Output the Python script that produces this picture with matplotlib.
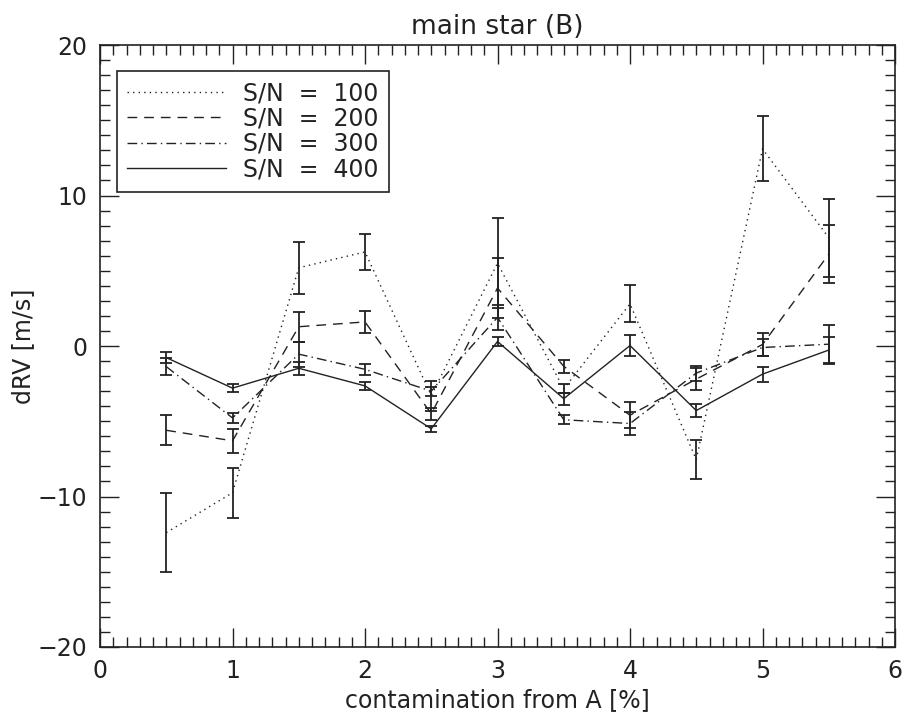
import matplotlib
matplotlib.use("Agg")
import matplotlib.pyplot as plt
from matplotlib.ticker import MultipleLocator

x = [0.5, 1.0, 1.5, 2.0, 2.5, 3.0, 3.5, 4.0, 4.5, 5.0, 5.5]

sn100 = [-12.4, -9.75, 5.2, 6.25, -3.3, 5.5, -2.85, 2.8, -7.55, 13.1, 7.2]
err100 = [2.6, 1.65, 1.73, 1.17, 1.0, 3.0, 0.3, 1.22, 1.3, 2.15, 2.6]
sn200 = [-5.6, -6.3, 1.28, 1.6, -4.5, 3.85, -1.35, -4.6, -2.2, 0.1, 6.1]
err200 = [1.0, 0.8, 1.0, 0.72, 0.4, 2.0, 0.42, 0.85, 0.75, 0.75, 1.93]
sn300 = [-1.37, -4.78, -0.54, -1.55, -3.0, 1.9, -4.9, -5.15, -1.8, -0.1, 0.12]
err300 = [0.55, 0.31, 0.83, 0.35, 0.3, 0.85, 0.3, 0.75, 0.5, 0.55, 1.27]
sn400 = [-0.77, -2.8, -1.48, -2.65, -5.5, 0.3, -3.5, 0.03, -4.29, -1.87, -0.27]
err400 = [0.39, 0.27, 0.44, 0.25, 0.2, 0.3, 0.4, 0.7, 0.44, 0.5, 0.9]

labels = ["S/N  =  100", "S/N  =  200", "S/N  =  300", "S/N  =  400"]
series = [(sn100, err100), (sn200, err200), (sn300, err300), (sn400, err400)]
styles = [(0, (1, 3)), (0, (7, 5)), (0, (7, 3, 1, 3)), "-"]

plt.rcParams["font.family"] = ["DejaVu Sans"]
col = "#222222"

fig = plt.figure(figsize=(9.05, 7.15), dpi=100)
ax = fig.add_axes([100 / 905, 1 - 647 / 715, 795 / 905, 602 / 715])

for (y, e), ls, lab in zip(series, styles, labels):
    ax.plot(x, y, linestyle=ls, color=col, lw=1.0, label=lab)
    ax.errorbar(x, y, yerr=e, fmt="none", ecolor=col, elinewidth=1.3,
                capsize=4.5, capthick=1.3)

ax.set_xlim(0, 6)
ax.set_ylim(-20, 20)
ax.xaxis.set_major_locator(MultipleLocator(1))
ax.xaxis.set_minor_locator(MultipleLocator(0.1))
ax.yaxis.set_major_locator(MultipleLocator(10))
ax.yaxis.set_minor_locator(MultipleLocator(1))
ax.tick_params(which="both", direction="in", top=True, right=True,
               color=col, width=1.0, labelsize=17, labelcolor=col)
ax.tick_params(which="major", length=14, pad=9)
ax.tick_params(which="minor", length=7)
for s in ax.spines.values():
    s.set_color(col)
    s.set_linewidth(1.2)

ax.set_xlabel("contamination from A [%]", fontsize=17, color=col, labelpad=3)
ax.set_ylabel("dRV [m/s]", fontsize=17, color=col, labelpad=2)
ax.set_title("main star (B)", fontsize=19, color=col, pad=8)

leg = ax.legend(loc="upper left", bbox_to_anchor=(0.021, 0.957), fontsize=17,
                handlelength=4.2, handletextpad=0.7, labelspacing=0.05,
                borderpad=0.45, borderaxespad=0, fancybox=False, framealpha=1,
                edgecolor=col)
leg.get_frame().set_linewidth(1.2)
for t in leg.get_texts():
    t.set_color(col)

fig.savefig("out.png", dpi=100)
